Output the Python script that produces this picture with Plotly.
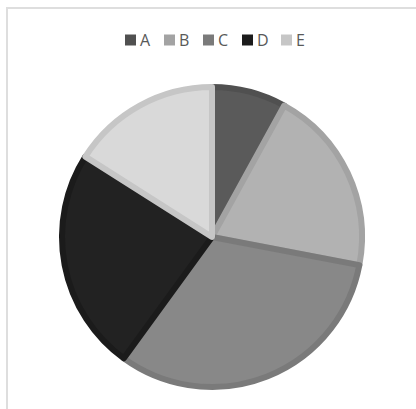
import plotly.graph_objects as go

labels = ["A", "B", "C", "D", "E"]
values = [8, 20, 32, 24, 16]
fill_colors = ["#5a5a5a", "#b2b2b2", "#888888", "#222222", "#d9d9d9"]
edge_colors = ["#505050", "#a3a3a3", "#7a7a7a", "#1b1b1b", "#c6c6c6"]

W, H = 416, 409
cx, cy, r = 212, 237, 150

fig = go.Figure(go.Pie(
    labels=labels,
    values=values,
    sort=False,
    direction="clockwise",
    rotation=0,
    textinfo="none",
    hoverinfo="label+value",
    showlegend=False,
    marker=dict(colors=fill_colors, line=dict(color=edge_colors, width=6)),
    domain=dict(x=[(cx - r) / W, (cx + r) / W], y=[(H - cy - r) / H, (H - cy + r) / H]),
))

# custom legend (compact, Excel-like): square + letter per category
leg_x0, leg_pitch, leg_y, sq = 125, 39, 40, 11
shapes = [dict(type="rect", xref="paper", yref="paper",
               x0=7 / W, x1=1.2, y0=-0.2, y1=(H - 8) / H,
               line=dict(color="#dedede", width=2), fillcolor="rgba(0,0,0,0)", layer="below")]
annotations = []
for i, (lab, col, ecol) in enumerate(zip(labels, fill_colors, edge_colors)):
    x = leg_x0 + i * leg_pitch
    shapes.append(dict(type="rect", xref="paper", yref="paper",
                       x0=x / W, x1=(x + sq) / W,
                       y0=(H - leg_y - sq / 2) / H, y1=(H - leg_y + sq / 2) / H,
                       line=dict(width=0), fillcolor=ecol))
    annotations.append(dict(text=lab, xref="paper", yref="paper",
                            x=(x + sq + 2) / W, y=(H - leg_y) / H,
                            xanchor="left", yanchor="middle", showarrow=False,
                            font=dict(size=16, color="#595959")))

fig.update_layout(
    width=W, height=H,
    margin=dict(l=0, r=0, t=0, b=0),
    paper_bgcolor="white",
    plot_bgcolor="white",
    font=dict(family="Open Sans, Liberation Sans, sans-serif", size=14, color="#595959"),
    shapes=shapes,
    annotations=annotations,
)

fig.write_html("out.html", config={"displayModeBar": False},
               post_script="document.body.style.margin='0';")
